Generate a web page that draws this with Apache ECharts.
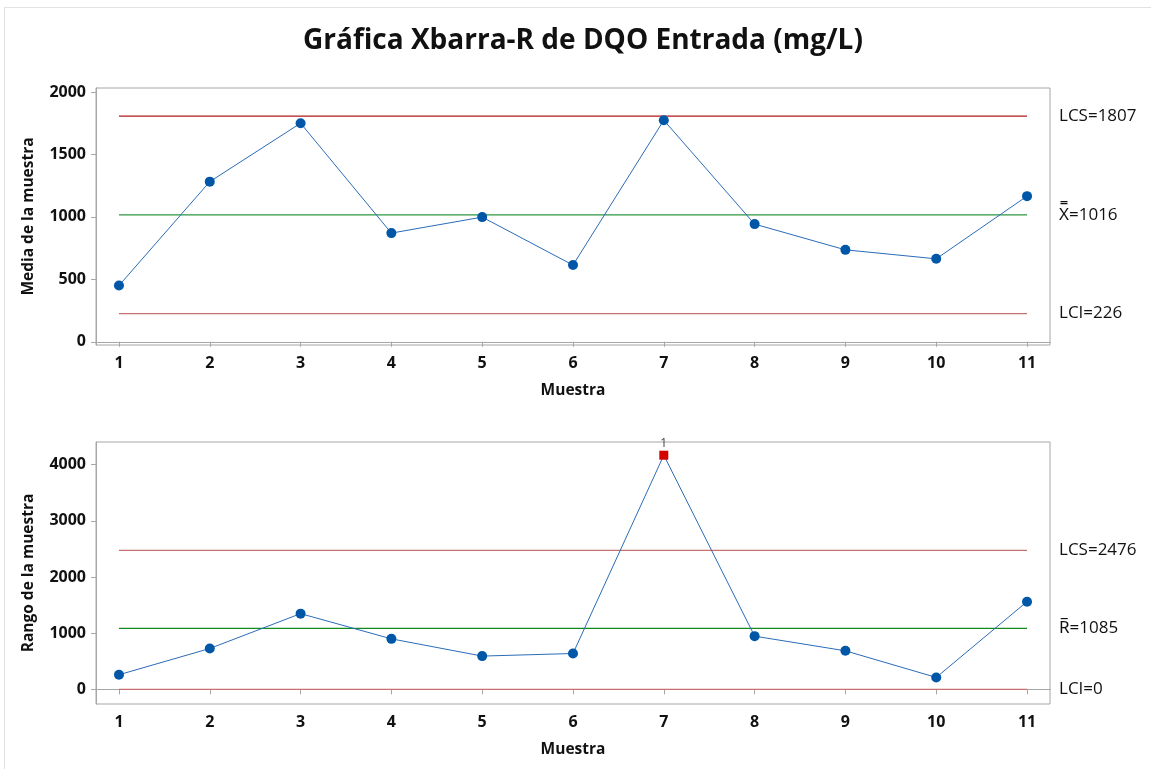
<!DOCTYPE html>
<html>
<head>
<meta charset="utf-8">
<script src="https://cdn.jsdelivr.net/npm/echarts@6/dist/echarts.min.js"></script>
<style>
  html, body { margin: 0; padding: 0; background: #ffffff; }
  #chart { width: 1151px; height: 769px; }
</style>
</head>
<body>
<div id="chart"></div>
<script>
// Muestras (subgrupos)
const samples = [1, 2, 3, 4, 5, 6, 7, 8, 9, 10, 11];
// Medias de cada muestra (mg/L)
const means = [450, 1282, 1750, 870, 998, 614, 1774, 942, 736, 664, 1166];
// Rangos de cada muestra (mg/L)
const ranges = [261, 728, 1349, 900, 593, 639, 4170, 948, 687, 213, 1562];
// Límites de control
const xbarLimits = { lcs: 1807, center: 1016, lci: 226 };
const rLimits = { lcs: 2476, center: 1085, lci: 0 };
// Muestras fuera de control en la gráfica R (prueba 1)
const rFlagged = [7];
// Etiquetas de los ejes
const meanTicks = [0, 500, 1000, 1500, 2000];
const rangeTicks = [0, 1000, 2000, 3000, 4000];

const FONT = '"Open Sans", "Noto Sans", sans-serif';
const AXIS_GRAY = '#a6a6a6';
const RED_HI = '#b01818';
const RED_LO = '#c87070';
const GREEN = '#2e9640';
const BLUE_LINE = '#2b6cb8';
const BLUE_DOT = '#0057a8';

const chart = echarts.init(document.getElementById('chart'), null, { renderer: 'canvas' });

const plain = v => String(v);

function xAxisFor(gridIndex) {
  return {
    type: 'value', gridIndex,
    min: 0.747, max: 11.253,
    name: 'Muestra', nameLocation: 'middle', nameGap: 38,
    nameTextStyle: { fontFamily: FONT, fontWeight: 'bold', fontSize: 15.5, color: '#111' },
    axisLine: { show: true, lineStyle: { color: AXIS_GRAY, width: 1 } },
    axisTick: { show: true, length: 5, customValues: samples, lineStyle: { color: AXIS_GRAY } },
    axisLabel: { customValues: samples, formatter: plain, margin: 10, fontFamily: FONT, fontWeight: 'bold', fontSize: 16, color: '#111' },
    splitLine: { show: false }
  };
}

function yAxisFor(gridIndex, min, max, ticks, name) {
  return {
    type: 'value', gridIndex, min, max,
    name, nameLocation: 'middle', nameGap: 59,
    nameTextStyle: { fontFamily: FONT, fontWeight: 'bold', fontSize: 15.5, color: '#111' },
    axisLine: { show: true, lineStyle: { color: AXIS_GRAY, width: 1 } },
    axisTick: { show: true, length: 5, customValues: ticks, lineStyle: { color: AXIS_GRAY } },
    axisLabel: { customValues: ticks, formatter: plain, margin: 10, fontFamily: FONT, fontWeight: 'bold', fontSize: 16, color: '#111' },
    splitLine: { show: false }
  };
}

// Horizontal control line from the first to the last sample, labelled at its right end
function limitLine(gridIndex, value, color, text) {
  return {
    type: 'line', xAxisIndex: gridIndex, yAxisIndex: gridIndex,
    data: [[samples[0], value], [samples[samples.length - 1], value]],
    symbol: 'none', silent: true, z: 1,
    lineStyle: { color, width: 1.2 },
    endLabel: {
      show: true, distance: 32, formatter: text,
      fontFamily: FONT, fontSize: 17, color: '#111'
    }
  };
}

const meanPoints = samples.map((s, i) => [s, means[i]]);
const rangePoints = samples.map((s, i) => {
  if (rFlagged.includes(s)) {
    return {
      value: [s, ranges[i]], symbol: 'rect', symbolSize: 9,
      itemStyle: { color: '#d40000' },
      label: { show: true, position: 'top', distance: 1, formatter: '1',
               fontFamily: FONT, fontSize: 12, color: '#444' }
    };
  }
  return [s, ranges[i]];
});

const option = {
  backgroundColor: '#ffffff',
  animation: false,
  title: {
    text: 'Gráfica Xbarra-R de DQO Entrada (mg/L)',
    left: 578, top: 22, textAlign: 'center',
    textStyle: { fontFamily: FONT, fontWeight: 'bold', fontSize: 28, color: '#111' }
  },
  graphic: [{
    type: 'rect', shape: { x: 4.5, y: 7.5, width: 1200, height: 900 },
    style: { fill: 'none', stroke: '#e2e2e2', lineWidth: 1 }, silent: true, z: -1
  }],
  grid: [
    { left: 96, top: 88, width: 954, height: 257, show: true, borderColor: AXIS_GRAY, borderWidth: 1 },
    { left: 96, top: 442, width: 954, height: 262, show: true, borderColor: AXIS_GRAY, borderWidth: 1 }
  ],
  xAxis: [xAxisFor(0), xAxisFor(1)],
  yAxis: [
    yAxisFor(0, -26, 2032, meanTicks, 'Media de la muestra'),
    yAxisFor(1, -260, 4405, rangeTicks, 'Rango de la muestra')
  ],
  series: [
    limitLine(0, xbarLimits.lcs, RED_HI, 'LCS=' + xbarLimits.lcs),
    limitLine(0, xbarLimits.center, GREEN, 'X\u033F=' + xbarLimits.center),
    limitLine(0, xbarLimits.lci, RED_LO, 'LCI=' + xbarLimits.lci),
    {
      type: 'line', xAxisIndex: 0, yAxisIndex: 0, data: meanPoints, z: 3,
      symbol: 'circle', symbolSize: 10,
      lineStyle: { color: BLUE_LINE, width: 1 },
      itemStyle: { color: BLUE_DOT }
    },
    limitLine(1, rLimits.lcs, RED_LO, 'LCS=' + rLimits.lcs),
    limitLine(1, rLimits.center, '#118a1f', 'R\u0305=' + rLimits.center),
    limitLine(1, rLimits.lci, RED_LO, 'LCI=' + rLimits.lci),
    {
      type: 'line', xAxisIndex: 1, yAxisIndex: 1, data: rangePoints, z: 3,
      symbol: 'circle', symbolSize: 10,
      lineStyle: { color: BLUE_LINE, width: 1 },
      itemStyle: { color: BLUE_DOT }
    }
  ]
};

chart.setOption(option);
</script>
</body>
</html>
